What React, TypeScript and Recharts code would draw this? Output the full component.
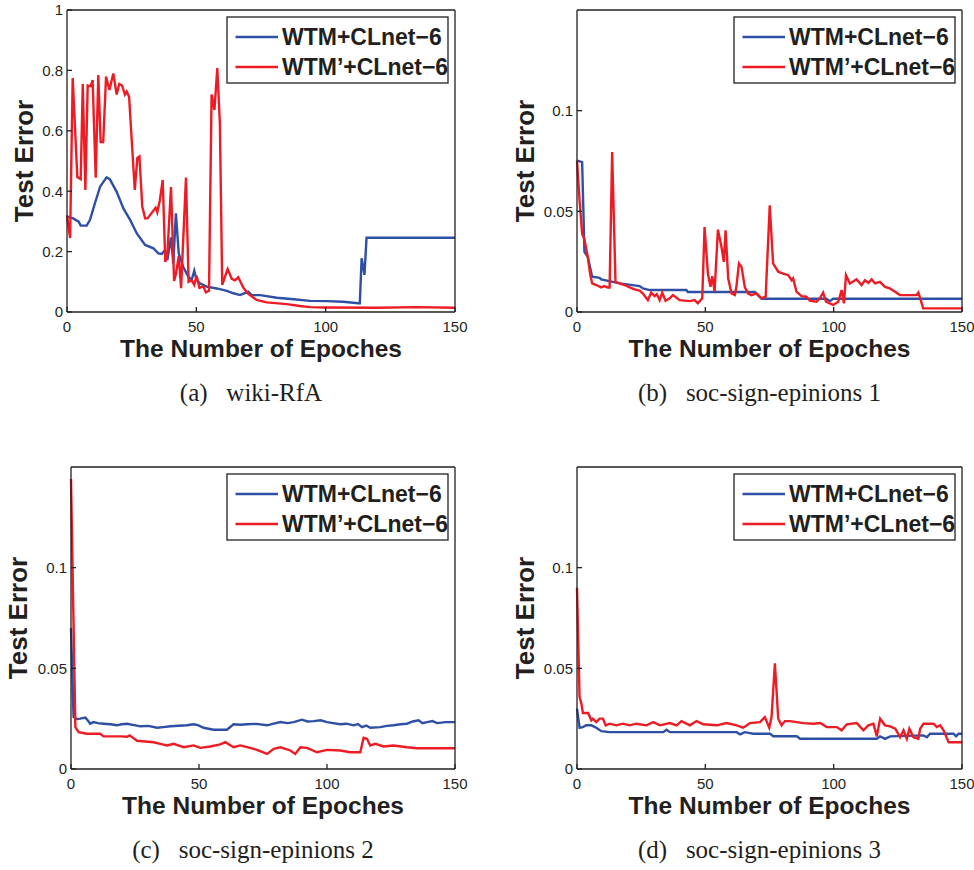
import { LineChart, Line, XAxis, YAxis } from "recharts";

const SANS = "'Liberation Sans', Arial, Helvetica, sans-serif";
const SERIF = "'Liberation Serif', 'Times New Roman', serif";
const INK = "#231F20";
const BLUE = "#2D4FA5";
const RED = "#ED1C24";

const EPOCH_TICKS = [0, 50, 100, 150];
const RFA_TICKS = [0, 0.2, 0.4, 0.6, 0.8, 1];
const EPI_TICKS = [0, 0.05, 0.1];

// (a) wiki-RfA
const rfaBlueEpoch = [0, 2.4, 4.5, 5.3, 7.6, 8.9, 10.8, 12.8, 15.3, 16.6, 19.2, 21.8, 24.4, 27, 30.2, 33.4, 35.3, 36.6, 37.9, 38.8, 40.2, 41.1, 42.1, 43.2, 44.9, 46.9, 48.2, 49.2, 50.1, 51.4, 54, 57.9, 61.8, 64.3, 66.9, 70.1, 71.4, 74.7, 81.1, 87.6, 94, 100.4, 106.8, 112.6, 113.2, 113.9, 115, 115.8, 150];
const rfaBlueErr = [0.316, 0.31, 0.299, 0.286, 0.286, 0.305, 0.36, 0.415, 0.446, 0.439, 0.398, 0.343, 0.305, 0.26, 0.222, 0.211, 0.194, 0.192, 0.205, 0.172, 0.247, 0.161, 0.327, 0.194, 0.15, 0.117, 0.106, 0.137, 0.106, 0.095, 0.084, 0.078, 0.07, 0.062, 0.056, 0.067, 0.056, 0.056, 0.047, 0.042, 0.037, 0.036, 0.034, 0.029, 0.029, 0.178, 0.123, 0.246, 0.246];
const rfaRedEpoch = [0, 1.2, 2.2, 4, 5.3, 6.1, 7.1, 8, 9.2, 9.9, 11.1, 12.1, 13, 14, 15.1, 16.4, 17.9, 19.2, 20.2, 21.3, 22.4, 23.1, 24, 26.2, 27.2, 28, 29.1, 30.2, 31.1, 33.4, 34.3, 34.9, 35.9, 37, 38, 38.8, 40.2, 41.4, 42.1, 43.2, 44.1, 46, 47, 48.2, 49.2, 50.1, 51.2, 52.7, 53.7, 54.9, 55.9, 57, 58.1, 59.1, 60, 62.1, 63.7, 64.9, 66.2, 68.2, 70.1, 73.3, 77.2, 85, 90, 94, 100, 120, 135, 150];
const rfaRedErr = [0.32, 0.245, 0.775, 0.447, 0.44, 0.755, 0.404, 0.75, 0.748, 0.768, 0.445, 0.785, 0.563, 0.563, 0.78, 0.735, 0.79, 0.72, 0.755, 0.75, 0.72, 0.73, 0.713, 0.404, 0.51, 0.515, 0.349, 0.31, 0.31, 0.335, 0.345, 0.33, 0.37, 0.437, 0.166, 0.19, 0.414, 0.103, 0.125, 0.185, 0.079, 0.445, 0.1, 0.105, 0.09, 0.12, 0.08, 0.085, 0.065, 0.07, 0.72, 0.669, 0.808, 0.625, 0.09, 0.142, 0.11, 0.105, 0.115, 0.08, 0.06, 0.04, 0.032, 0.026, 0.02, 0.016, 0.015, 0.014, 0.016, 0.014];

// (b) soc-sign-epinions 1
const ep1BlueEpoch = [0, 2, 2.9, 4.2, 5.9, 8.8, 9.4, 14, 16.6, 24.4, 25.7, 28.3, 42.6, 43.2, 69.3, 71.9, 97.2, 98.5, 99.8, 150];
const ep1BlueErr = [0.0752, 0.0744, 0.0299, 0.0274, 0.0175, 0.017, 0.0162, 0.015, 0.0142, 0.0129, 0.0117, 0.0109, 0.0109, 0.0099, 0.0099, 0.0066, 0.0066, 0.0054, 0.0066, 0.0066];
const ep1RedEpoch = [0, 1, 2, 2.9, 4.2, 5.1, 5.9, 7.5, 9.4, 10.7, 12, 12.7, 13.7, 15, 16.6, 18.5, 20.5, 22.4, 24.4, 25.7, 27.6, 28.9, 30.2, 31.1, 32.2, 33.2, 34.5, 36.1, 37.4, 40, 43.9, 45.8, 47.1, 48.8, 49.7, 51, 52, 52.7, 53.6, 54.9, 56.3, 57.2, 57.9, 58.9, 60.2, 61.5, 62.1, 63.1, 64.1, 65.4, 66.7, 68, 69.9, 71.9, 73.5, 75.1, 76.4, 78.4, 80.3, 82.3, 83.6, 84.2, 85.5, 87.5, 89.4, 90.7, 93.3, 94.6, 95.9, 97, 99.8, 101.8, 103.1, 104, 104.8, 106.3, 108.9, 110.9, 112.2, 113.5, 114.8, 116.1, 118, 120, 121.9, 123.9, 125.8, 132.3, 133, 134.9, 150];
const ep1RedErr = [0.0752, 0.0554, 0.0389, 0.036, 0.0274, 0.0191, 0.0142, 0.0134, 0.0122, 0.0129, 0.0122, 0.0122, 0.0794, 0.015, 0.0142, 0.0134, 0.0122, 0.0112, 0.0106, 0.0092, 0.0059, 0.0096, 0.0079, 0.0089, 0.0059, 0.0096, 0.0056, 0.0068, 0.0084, 0.0059, 0.0054, 0.0059, 0.0043, 0.0068, 0.0422, 0.0191, 0.0125, 0.0178, 0.0101, 0.0409, 0.0323, 0.0249, 0.0406, 0.0167, 0.0092, 0.0084, 0.0125, 0.0241, 0.0224, 0.0122, 0.0092, 0.0084, 0.0092, 0.0068, 0.0076, 0.053, 0.0241, 0.02, 0.0191, 0.0183, 0.0158, 0.0167, 0.0101, 0.0079, 0.0076, 0.0056, 0.0051, 0.0068, 0.0096, 0.0051, 0.0035, 0.0051, 0.0109, 0.0043, 0.0183, 0.0142, 0.0162, 0.0134, 0.0158, 0.0145, 0.0162, 0.0142, 0.015, 0.0125, 0.0117, 0.0101, 0.0084, 0.0084, 0.0096, 0.0018, 0.0018];

// (c) soc-sign-epinions 2
const ep2BlueEpoch = [0, 1, 2.4, 3.6, 5.6, 6.5, 7.5, 8.8, 10.5, 12.7, 15.4, 18, 19.8, 21.9, 24.6, 27.1, 30.2, 33.6, 36.1, 38.8, 42.1, 45.3, 47.9, 49.6, 51.8, 55.7, 60.9, 63.5, 66.2, 68.7, 72.4, 76.6, 79.2, 81.8, 84.6, 87, 90.2, 92.4, 94.8, 97.5, 100, 102.4, 105.2, 107.6, 110.4, 112.1, 113.7, 115.3, 116.9, 120.8, 123.4, 126, 128.7, 131.2, 133.5, 135.8, 137.3, 139.1, 141.2, 143, 146.4, 150];
const ep2BlueErr = [0.07, 0.0258, 0.0248, 0.025, 0.0255, 0.0242, 0.0225, 0.0233, 0.0228, 0.0225, 0.0222, 0.0217, 0.0222, 0.0225, 0.0218, 0.0212, 0.0214, 0.0205, 0.0208, 0.0212, 0.0215, 0.0217, 0.0222, 0.0218, 0.0205, 0.0195, 0.0195, 0.0222, 0.022, 0.0222, 0.0224, 0.0217, 0.0225, 0.0233, 0.0228, 0.0233, 0.0245, 0.0236, 0.0238, 0.0242, 0.0233, 0.0228, 0.0222, 0.0225, 0.0217, 0.0223, 0.0208, 0.0216, 0.0205, 0.0208, 0.0214, 0.0217, 0.0222, 0.0225, 0.0236, 0.0242, 0.0228, 0.0233, 0.0238, 0.0228, 0.0233, 0.0233];
const ep2RedEpoch = [0, 1.7, 3, 6.2, 11.4, 12.7, 19.3, 21.9, 22.9, 25.8, 32.3, 34.9, 37.5, 40.1, 44, 47.9, 50.5, 54.4, 58.3, 60.3, 63.5, 66.1, 70, 72.6, 76.6, 79.2, 81.8, 85.7, 87.6, 89.6, 92.2, 96.1, 100, 105.2, 109.1, 113, 114.3, 115.6, 116.9, 118.9, 122.1, 126, 131.2, 135.2, 150];
const ep2RedErr = [0.144, 0.0208, 0.0183, 0.0175, 0.0175, 0.0162, 0.0162, 0.016, 0.0167, 0.014, 0.0133, 0.0125, 0.0117, 0.0125, 0.0108, 0.0117, 0.0105, 0.0112, 0.0122, 0.0133, 0.0108, 0.0117, 0.0105, 0.0095, 0.0075, 0.01, 0.0108, 0.0092, 0.0075, 0.0108, 0.0105, 0.0083, 0.0095, 0.0092, 0.0083, 0.0083, 0.0155, 0.015, 0.0117, 0.0125, 0.0112, 0.0117, 0.0108, 0.0103, 0.0103];

// (d) soc-sign-epinions 3
const ep3BlueEpoch = [0, 1, 2.3, 3.6, 5.6, 7.5, 9.5, 12.7, 33.6, 34.9, 36.2, 62.2, 63.5, 65.4, 67.4, 68.7, 75.2, 76.5, 85.6, 86.9, 116.8, 118.1, 120, 122, 135, 136.3, 137.6, 146.7, 147.7, 148.7, 150];
const ep3BlueErr = [0.03, 0.0205, 0.0208, 0.0217, 0.0217, 0.0205, 0.0188, 0.0183, 0.0183, 0.0195, 0.0183, 0.0183, 0.0172, 0.0183, 0.0178, 0.0175, 0.0175, 0.0163, 0.0163, 0.015, 0.015, 0.0162, 0.015, 0.0162, 0.0167, 0.0158, 0.0175, 0.0175, 0.0162, 0.0175, 0.0175];
const ep3RedEpoch = [0, 1, 1.7, 2.3, 4.3, 5.6, 6.2, 7.5, 8.8, 10.1, 11.2, 12.7, 15.3, 17.9, 20.5, 23.1, 27.1, 29.7, 32.3, 36.2, 38.8, 40.7, 44, 46.6, 49.2, 54.4, 58.3, 62.2, 64.8, 67.4, 71.3, 73.2, 74.9, 75.8, 77.1, 78.4, 79.7, 81, 83, 85.6, 88.2, 92.1, 94.8, 97.3, 101.2, 103.1, 105.1, 109, 111.6, 113.5, 115.5, 116.8, 118.1, 120, 122, 124, 125.9, 127.2, 128.5, 129.5, 131.1, 133, 133.7, 135, 138.9, 140.2, 141.5, 142.8, 144.8, 150];
const ep3RedErr = [0.09, 0.0358, 0.0325, 0.0278, 0.0278, 0.0242, 0.025, 0.0233, 0.025, 0.025, 0.0217, 0.0225, 0.0217, 0.0225, 0.0217, 0.0225, 0.0217, 0.0233, 0.0217, 0.0228, 0.0217, 0.0238, 0.0217, 0.0238, 0.0222, 0.0217, 0.0228, 0.0217, 0.0205, 0.0228, 0.0233, 0.0258, 0.0205, 0.0258, 0.0525, 0.025, 0.0217, 0.0238, 0.0238, 0.0233, 0.0228, 0.0225, 0.0228, 0.0208, 0.0208, 0.0192, 0.0222, 0.0228, 0.0192, 0.0217, 0.0225, 0.0162, 0.025, 0.0217, 0.0212, 0.02, 0.0158, 0.0192, 0.015, 0.02, 0.0158, 0.015, 0.02, 0.0225, 0.0225, 0.0208, 0.0217, 0.0192, 0.0133, 0.0133];

type Pt = { epoch: number; err: number };
const zip = (xs: number[], ys: number[]): Pt[] => xs.map((x, i) => ({ epoch: x, err: ys[i] }));

interface PanelSpec {
  tag: string;
  name: string;
  // plot box, page coordinates
  left: number;
  top: number;
  width: number;
  height: number;
  yMax: number;
  yTicks: number[];
  yLabelX: number;
  blue: Pt[];
  red: Pt[];
}

const PANELS: PanelSpec[] = [
  { tag: "(a)", name: "wiki-RfA", left: 67, top: 10, width: 388, height: 302, yMax: 1, yTicks: RFA_TICKS, yLabelX: 33, blue: zip(rfaBlueEpoch, rfaBlueErr), red: zip(rfaRedEpoch, rfaRedErr) },
  { tag: "(b)", name: "soc-sign-epinions 1", left: 577, top: 10, width: 385, height: 302, yMax: 0.15, yTicks: EPI_TICKS, yLabelX: 534, blue: zip(ep1BlueEpoch, ep1BlueErr), red: zip(ep1RedEpoch, ep1RedErr) },
  { tag: "(c)", name: "soc-sign-epinions 2", left: 71, top: 467, width: 384, height: 302, yMax: 0.15, yTicks: EPI_TICKS, yLabelX: 27, blue: zip(ep2BlueEpoch, ep2BlueErr), red: zip(ep2RedEpoch, ep2RedErr) },
  { tag: "(d)", name: "soc-sign-epinions 3", left: 577, top: 467, width: 385, height: 302, yMax: 0.15, yTicks: EPI_TICKS, yLabelX: 534, blue: zip(ep3BlueEpoch, ep3BlueErr), red: zip(ep3RedEpoch, ep3RedErr) },
];

const AXIS_W = 50;
const PAD_TOP = 10;
const PAD_RIGHT = 25;
const AXIS_H = 30;
const blank = () => "";
const axisLine = { stroke: INK, strokeWidth: 1.3 };
const tickStyle = { fill: INK, fontSize: 15, fontFamily: SANS };

// ── Legend box, top-right inside the plot ──────────────────────────────────
function LegendBox({ p }: { p: PanelSpec }) {
  const x = p.left + p.width - 228;
  const y = p.top + 7;
  const rows = [
    { label: "WTM+CLnet\u22126", color: BLUE },
    { label: "WTM\u2019+CLnet\u22126", color: RED },
  ];
  return (
    <g>
      <rect x={x} y={y} width={221} height={66} fill="#fff" stroke={INK} strokeWidth={1.3} />
      {rows.map((r, i) => {
        const cy = y + 20 + i * 30;
        return (
          <g key={r.label}>
            <line x1={x + 8.5} x2={x + 51} y1={cy} y2={cy} stroke={r.color} strokeWidth={2.4} />
            <text x={x + 55} y={cy + 8} fontSize={23} fontWeight={700} fontFamily={SANS} fill={INK}>
              {r.label}
            </text>
          </g>
        );
      })}
    </g>
  );
}

function Panel({ p }: { p: PanelSpec }) {
  const cw = AXIS_W + p.width + 1 + PAD_RIGHT;
  const ch = PAD_TOP + p.height + AXIS_H;
  const midX = p.left + p.width / 2;
  const bottom = p.top + p.height;
  return (
    <>
      <div style={{ position: "absolute", left: p.left - AXIS_W, top: p.top - PAD_TOP }}>
        <LineChart width={cw} height={ch} margin={{ top: PAD_TOP - 1, right: PAD_RIGHT, bottom: 0, left: 0 }}>
          <XAxis
            xAxisId="b" dataKey="epoch" type="number" domain={[0, 150]} ticks={EPOCH_TICKS} interval={0}
            height={AXIS_H} tickSize={-5} tickMargin={14} axisLine={axisLine} tickLine={axisLine} tick={tickStyle}
          />
          <XAxis
            xAxisId="t" orientation="top" dataKey="epoch" type="number" domain={[0, 150]} ticks={EPOCH_TICKS} interval={0}
            height={1} tickSize={-5} tickFormatter={blank} axisLine={axisLine} tickLine={axisLine}
          />
          <YAxis
            yAxisId="l" type="number" domain={[0, p.yMax]} ticks={p.yTicks} interval={0}
            width={AXIS_W} tickSize={-5} tickMargin={9} axisLine={axisLine} tickLine={axisLine} tick={tickStyle}
          />
          <YAxis
            yAxisId="r" orientation="right" type="number" domain={[0, p.yMax]} ticks={p.yTicks} interval={0}
            width={1} tickSize={-5} tickFormatter={blank} axisLine={axisLine} tickLine={axisLine}
          />
          <Line xAxisId="b" yAxisId="l" data={p.blue} dataKey="err" type="linear" stroke={BLUE} strokeWidth={2.4} dot={false} isAnimationActive={false} />
          <Line xAxisId="b" yAxisId="l" data={p.red} dataKey="err" type="linear" stroke={RED} strokeWidth={2.4} dot={false} isAnimationActive={false} />
        </LineChart>
      </div>
      <svg width={974} height={870} style={{ position: "absolute", left: 0, top: 0, pointerEvents: "none" }}>
        <text
          transform={`translate(${p.yLabelX},${p.top + p.height / 2}) rotate(-90)`}
          textAnchor="middle" fontSize={26} fontWeight={700} fontFamily={SANS} fill={INK}
        >
          Test Error
        </text>
        <text x={midX} y={bottom + 45} textAnchor="middle" fontSize={24.5} fontWeight={700} fontFamily={SANS} fill={INK}>
          The Number of Epoches
        </text>
        <text x={midX - 10} y={bottom + 89} textAnchor="middle" fontSize={25} fontFamily={SERIF} fill={INK}>
          {`${p.tag}\u00A0\u00A0\u00A0${p.name}`}
        </text>
        <LegendBox p={p} />
      </svg>
    </>
  );
}

export default function App() {
  return (
    <div style={{ position: "absolute", left: 0, top: 0, width: 974, height: 870, background: "#fff" }}>
      {PANELS.map((p) => (
        <Panel key={p.tag} p={p} />
      ))}
    </div>
  );
}
